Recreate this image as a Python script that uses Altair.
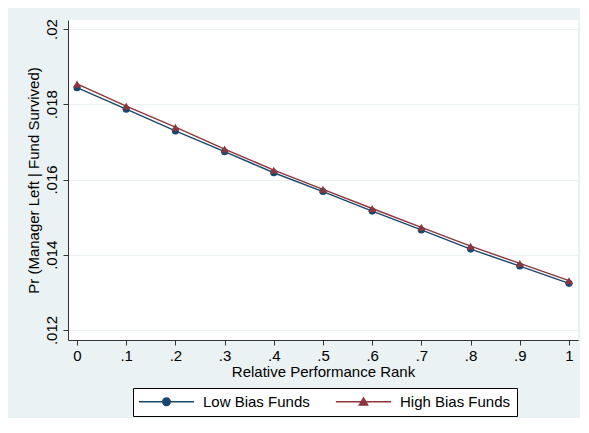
import altair as alt
import pandas as pd

# ---- data ----
rank = [0.0, 0.1, 0.2, 0.3, 0.4, 0.5, 0.6, 0.7, 0.8, 0.9, 1.0]
low_bias = [0.01844, 0.01787, 0.01729, 0.01674, 0.01618, 0.01568,
            0.01516, 0.01466, 0.01415, 0.01370, 0.01324]
high_bias = [0.01854, 0.01795, 0.01739, 0.01681, 0.01625, 0.01574,
             0.01523, 0.01473, 0.01423, 0.01377, 0.01331]
series_names = ["Low Bias Funds", "High Bias Funds"]
x_ticks = [0.0, 0.1, 0.2, 0.3, 0.4, 0.5, 0.6, 0.7, 0.8, 0.9, 1.0]
y_ticks = [0.012, 0.014, 0.016, 0.018, 0.02]
x_title = "Relative Performance Rank"
y_title = "Pr (Manager Left | Fund Survived)"

df = pd.DataFrame({
    "rank": rank + rank,
    "prob": low_bias + high_bias,
    "series": [series_names[0]] * len(rank) + [series_names[1]] * len(rank),
})

NAVY = "#1a476f"
MAROON = "#90353b"
BG = "#eaf2f3"
FONT = "Liberation Sans"
AXC = "#333333"

x_scale = alt.Scale(domain=[-0.0183, 1.0183], nice=False, zero=False)
y_scale = alt.Scale(domain=[0.011734, 0.02024], nice=False, zero=False)
color_scale = alt.Scale(domain=series_names, range=[NAVY, MAROON])
legend_paths = [
    "M-6.9,0H6.9M0.95,0A0.95,0.95,0,1,1,-0.95,0A0.95,0.95,0,1,1,0.95,0",
    "M-6.9,0H6.9M0,-0.95L1.05,0.85L-1.05,0.85Z",
]
shape_scale = alt.Scale(domain=series_names, range=legend_paths)

x_axis = alt.Axis(values=x_ticks, format=".1~f",
                  labelExpr="replace(datum.label, '0.', '.')",
                  title=x_title, grid=False, tickSize=5, labelPadding=3,
                  titlePadding=1, labelFlush=False, labelOverlap=False)
y_axis = alt.Axis(values=y_ticks, format=".3~f",
                  labelExpr="replace(datum.label, '0.', '.')",
                  title=y_title, grid=True, gridColor=BG, gridWidth=1,
                  tickSize=5, labelPadding=4, labelAngle=270,
                  labelAlign="center", labelBaseline="bottom",
                  titlePadding=3, labelOverlap=False)

X = alt.X("rank:Q", scale=x_scale, axis=x_axis)
Y = alt.Y("prob:Q", scale=y_scale, axis=y_axis)

base = alt.Chart(df)
low_base = base.transform_filter(alt.datum.series == series_names[0])
high_base = base.transform_filter(alt.datum.series == series_names[1])

line_low = low_base.mark_line(strokeWidth=1.4, color=NAVY).encode(x=X, y=Y)
line_high = high_base.mark_line(strokeWidth=1.4, color=MAROON).encode(x=X, y=Y)
circles = low_base.mark_point(
    shape="circle", filled=True, size=50, opacity=1, color=NAVY
).encode(x=X, y=Y)
triangles = high_base.mark_point(
    shape="triangle-up", filled=True, size=64, opacity=1, color=MAROON
).encode(x=X, y=Y)

leg = alt.Legend(title=None, orient="none", legendX=65, legendY=368,
                 direction="horizontal", symbolSize=64, symbolStrokeWidth=1.4,
                 symbolOffset=20, labelOffset=29, columnPadding=23, padding=6,
                 fillColor="#ffffff", strokeColor="#000000",
                 labelFontSize=15, labelFont=FONT, labelColor="#000000",
                 labelLimit=0, symbolOpacity=1)
legend_layer = base.mark_point(filled=True, opacity=0).encode(
    x=X, y=Y,
    fill=alt.Fill("series:N", scale=color_scale, legend=leg),
    stroke=alt.Stroke("series:N", scale=color_scale, legend=leg),
    shape=alt.Shape("series:N", scale=shape_scale, legend=leg),
)

chart = alt.layer(line_low, line_high, circles, triangles, legend_layer).properties(
    width=510, height=320,
    background=BG,
    padding={"left": 60, "top": 12, "right": 2, "bottom": 78},
    autosize=alt.AutoSizeParams(type="none"),
).configure_view(
    stroke=None, fill="#ffffff"
).configure_axis(
    labelFont=FONT, titleFont=FONT, labelFontSize=15, titleFontSize=15,
    titleFontWeight="normal", labelColor="#000000", titleColor="#000000",
    domainColor=AXC, tickColor=AXC, domainWidth=1, tickWidth=1,
)

chart.save("out.html", embed_options={"renderer": "svg", "actions": False})
